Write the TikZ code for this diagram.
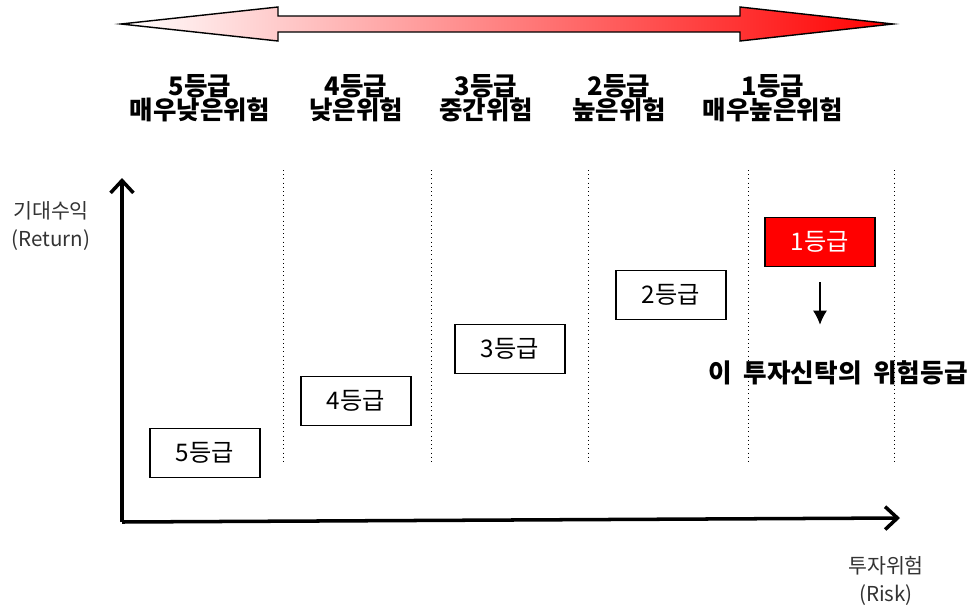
\documentclass[tikz,border=0pt]{standalone}
\usepackage{fontspec}
\setmainfont{Noto Sans CJK KR}
\usepackage{tikz}
\usetikzlibrary{arrows.meta}

\tikzset{
  grade/.style={draw,thick,minimum width=2.2cm,minimum height=0.98cm,inner sep=0pt,font=\fontsize{13.8}{15}\selectfont},
  heading/.style={align=center,font=\bfseries\fontsize{14.5}{13.8}\selectfont},
  axislabel/.style={align=center,text=black!80,font=\fontsize{11.7}{16}\selectfont}
}

\begin{document}
\begin{tikzpicture}[x=0.02cm,y=-0.02cm]
    \useasboundingbox (0,0) rectangle (978,609);
    \draw[thick,left color=white,middle color=red!25,right color=red]
      (121,24) -- (278,7) -- (278,16) -- (740,16) -- (740,7) -- (893,24)
      -- (740,41) -- (740,32) -- (278,32) -- (278,41) -- cycle;
    \foreach \x/\n/\t in {200/5/매우낮은위험,356/4/낮은위험,486/3/중간위험,619/2/높은위험,773/1/매우높은위험}
      \node[heading] (head\n) at (\x,98) {{\n}등급\\{\t}};
    \foreach \x in {283,431,588,748,894}
      \draw[dotted] (\x,170) -- (\x,465);
    \coordinate (origin) at (122,522);
    \coordinate (ytip) at (122,178);
    \coordinate (xtip) at (900,518);
    \draw[line width=2pt,-{Straight Barb[length=7pt,width=13pt,line width=2pt]}] (origin) -- (ytip);
    \draw[line width=2pt,-{Straight Barb[length=7pt,width=13pt,line width=2pt]}] (origin) -- (xtip);
    \node[axislabel] (ret) at (51,226) {기대수익\\(Return)};
    \node[axislabel] (risk) at (886,581) {투자위험\\(Risk)};
    \node[grade] (g5) at (205,453) {5등급};
    \node[grade] (g4) at (356,401) {4등급};
    \node[grade] (g3) at (510,349) {3등급};
    \node[grade] (g2) at (671,295) {2등급};
    \node[grade,fill=red,text=white] (g1) at (820,242) {1등급};
    \node[font=\bfseries\fontsize{14.6}{16}\selectfont] (mine) at (838,373) {이\ \ 투자신탁의\ \ 위험등급};
    \draw[semithick,-{Latex[length=8pt,width=8pt]},shorten <=0.3cm,shorten >=0.6cm] (g1.south) -- (g1.south |- mine.north);
\end{tikzpicture}
\end{document}
